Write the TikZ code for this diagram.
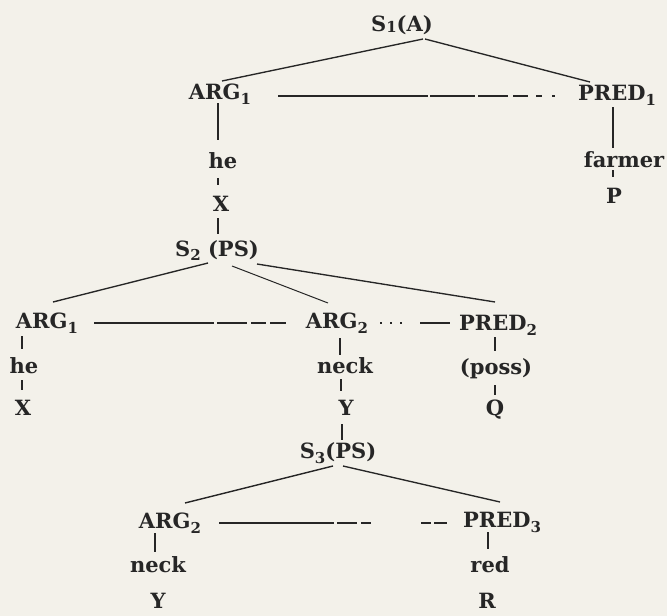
\documentclass[tikz,border=0pt]{standalone}
\usepackage{fontspec}
\setmainfont{DejaVu Serif}
\newfontfamily\labfont{DejaVu Serif}
\definecolor{bg}{RGB}{243,241,234}
\definecolor{ink}{RGB}{38,38,38}
\newcommand\lsub[2]{\raisebox{-#1pt}{\fontsize{15}{15}\selectfont #2}}
\begin{document}
\begin{tikzpicture}[x=1pt,y=-1pt,
  lab/.style={anchor=base,inner sep=0pt,font=\labfont\bfseries\fontsize{21}{24}\selectfont,text=ink},
  conn/.style={draw=ink,line width=1.35pt}]
\fill[bg] (0,0) rectangle (667,616);
\useasboundingbox (0,0) rectangle (667,616);
% level 1
\node[lab] (s1) at (402,31) {S\lsub{1}{1}(A)};
\node[lab] (argA) at (220,99) {ARG\lsub{5}{1}};
\node[lab] (predA) at (617,100) {PRED\lsub{5}{1}};
\node[lab] (heA) at (223,168) {he};
\node[lab] (xA) at (221,211) {X};
\node[lab] (farmer) at (624,167) {farmer};
\node[lab] (pA) at (614,203) {P};
\node[lab] (s2) at (217,256) {S\lsub{4}{2} (PS)};
% level 2
\node[lab] (argB) at (47,328) {ARG\lsub{5}{1}};
\node[lab] (argC) at (337,328) {ARG\lsub{5}{2}};
\node[lab] (predB) at (498,330) {PRED\lsub{5}{2}};
\node[lab] (heB) at (24,373) {he};
\node[lab] (neckB) at (345,373) {neck};
\node[lab] (poss) at (496,374) {(poss)};
\node[lab] (xB) at (23,415) {X};
\node[lab] (yB) at (346,415) {Y};
\node[lab] (qB) at (495,415) {Q};
\node[lab] (s3) at (338,458) {S\lsub{5}{3}(PS)};
% level 3
\node[lab] (argD) at (170,528) {ARG\lsub{5}{2}};
\node[lab] (predC) at (502,527) {PRED\lsub{5}{3}};
\node[lab] (neckC) at (158,572) {neck};
\node[lab] (red) at (490,572) {red};
\node[lab] (yC) at (158,608) {Y};
\node[lab] (rC) at (487,608) {R};
% connectors
\draw[conn] ([shift={(21,8)}]s1.base) -- ([shift={(2,-18)}]argA.base);
\draw[conn] ([shift={(23,8)}]s1.base) -- ([shift={(-27,-18)}]predA.base);
\draw[conn,dash pattern=on 150pt off 2pt on 45pt off 3pt on 30pt off 5pt on 15pt off 8pt on 6pt off 10pt on 3pt off 8pt on 3pt]
  ([shift={(58,-3)}]argA.base) -- ([shift={(-57,-4)}]predA.base);
\draw[conn] ([shift={(-2,4)}]argA.base) -- ([shift={(-5,-28)}]heA.base);
\draw[conn] ([shift={(-5,10)}]heA.base) -- ([shift={(-3,-26)}]xA.base);
\draw[conn] ([shift={(-3,7)}]xA.base) -- ([shift={(1,-22)}]s2.base);
\draw[conn] ([shift={(-4,7)}]predA.base) -- ([shift={(-11,-19)}]farmer.base);
\draw[conn] ([shift={(-11,3)}]farmer.base) -- ([shift={(-1,-26)}]pA.base);
\draw[conn] ([shift={(-9,7)}]s2.base) -- ([shift={(6,-26)}]argB.base);
\draw[conn,line width=1pt] ([shift={(15,10)}]s2.base) -- ([shift={(-9,-25)}]argC.base);
\draw[conn] ([shift={(40,8)}]s2.base) -- ([shift={(-3,-28)}]predB.base);
\draw[conn,dash pattern=on 120pt off 3pt on 30pt off 4pt on 15pt off 4pt on 20pt]
  ([shift={(47,-5)}]argB.base) -- ([shift={(-51,-5)}]argC.base);
\draw[conn,dash pattern=on 2pt off 8pt on 2pt off 8pt on 2pt off 18pt on 35pt]
  ([shift={(43,-5)}]argC.base) -- ([shift={(-48,-7)}]predB.base);
\draw[conn] ([shift={(-25,8)}]argB.base) -- ([shift={(-2,-24)}]heB.base);
\draw[conn] ([shift={(-2,7)}]heB.base) -- ([shift={(-1,-25)}]xB.base);
\draw[conn] ([shift={(3,10)}]argC.base) -- ([shift={(-5,-18)}]neckB.base);
\draw[conn] ([shift={(-4,6)}]neckB.base) -- ([shift={(-5,-24)}]yB.base);
\draw[conn] ([shift={(-4,9)}]yB.base) -- ([shift={(4,-18)}]s3.base);
\draw[conn] ([shift={(-3,7)}]predB.base) -- ([shift={(-1,-23)}]poss.base);
\draw[conn] ([shift={(-1,11)}]poss.base) -- ([shift={(0,-20)}]qB.base);
\draw[conn] ([shift={(-5,8)}]s3.base) -- ([shift={(15,-25)}]argD.base);
\draw[conn] ([shift={(5,8)}]s3.base) -- ([shift={(-2,-25)}]predC.base);
\draw[conn,dash pattern=on 115pt off 3pt on 20pt off 4pt on 10pt off 50pt on 10pt off 3pt on 18pt]
  ([shift={(49,-5)}]argD.base) -- ([shift={(-55,-4)}]predC.base);
\draw[conn] ([shift={(-15,5)}]argD.base) -- ([shift={(-3,-20)}]neckC.base);
\draw[conn] ([shift={(-14,5)}]predC.base) -- ([shift={(-2,-23)}]red.base);
\end{tikzpicture}
\end{document}
